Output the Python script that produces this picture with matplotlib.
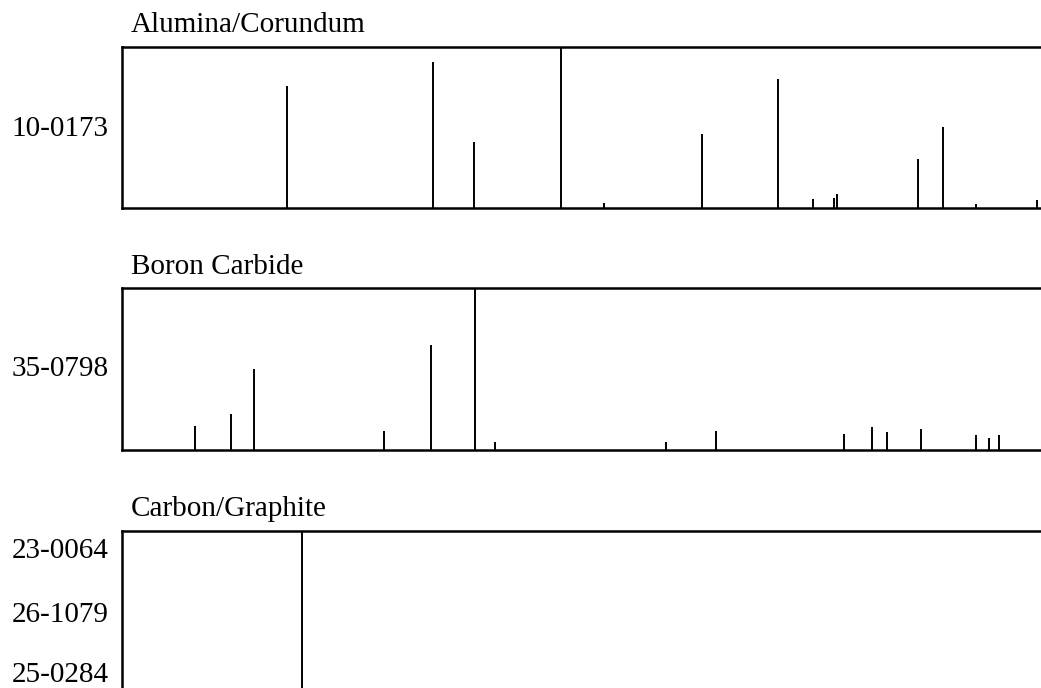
import numpy as np
import matplotlib
matplotlib.use("Agg")
import matplotlib.pyplot as plt

plt.rcParams['font.family'] = ['Liberation Serif', 'DejaVu Serif']

# stick patterns: 2-theta (deg) and relative intensity
alumina_2theta = [25.58, 35.10, 37.73, 43.39, 46.18, 52.55, 57.52, 59.76,
                  61.13, 61.34, 66.57, 68.23, 70.38, 74.30]
alumina_int = [0.755, 0.904, 0.405, 1.0, 0.03, 0.456, 0.80, 0.05,
               0.06, 0.085, 0.30, 0.50, 0.02, 0.045]

boron_2theta = [19.63, 21.97, 23.44, 31.86, 34.92, 37.77, 39.07, 50.23,
                53.44, 61.76, 63.62, 64.55, 66.78, 70.36, 71.20, 71.83]
boron_int = [0.15, 0.22, 0.50, 0.12, 0.65, 1.0, 0.05, 0.05,
             0.12, 0.10, 0.14, 0.11, 0.13, 0.09, 0.075, 0.09]

graphite_2theta = [26.56]
graphite_int = [1.0]

titles = ["Alumina/Corundum", "Boron Carbide", "Carbon/Graphite"]
cards = [["10-0173"], ["35-0798"], ["23-0064", "26-1079", "25-0284"]]

W, H = 1041, 688
fig = plt.figure(figsize=(W / 100, H / 100), dpi=100)

x0 = 14.86
deg_per_px = 0.064985
left_px, right_px = 122, 1100
xmax = x0 + (right_px - left_px) * deg_per_px

# panel tops/bottoms in pixels
panels = [(46.5, 207.5), (288.3, 450.0), (530.5, 691.5)]
data = [(alumina_2theta, alumina_int), (boron_2theta, boron_int),
        (graphite_2theta, graphite_int)]

for (top, bot), (xs, ys) in zip(panels, data):
    ax = fig.add_axes([left_px / W, (H - bot) / H, (right_px - left_px) / W, (bot - top) / H])
    ax.vlines(xs, 0, ys, color='black', linewidth=1.4)
    ax.set_xlim(x0, xmax)
    ax.set_ylim(0, 1)
    ax.set_xticks([])
    ax.set_yticks([])
    for s in ax.spines.values():
        s.set_linewidth(1.8)

# titles
for t, ypx in zip(titles, [25, 267, 509]):
    fig.text(131 / W, 1 - ypx / H, t, fontsize=21, ha='left', va='center')

# card numbers
label_y = [[129.5], [368.5], [551.5, 614.5, 674.5]]
for labs, yy in zip(cards, label_y):
    for lab, ypx in zip(labs, yy):
        fig.text(108.5 / W, 1 - ypx / H, lab, fontsize=21, ha='right', va='center')

fig.savefig("out.png", dpi=100)
